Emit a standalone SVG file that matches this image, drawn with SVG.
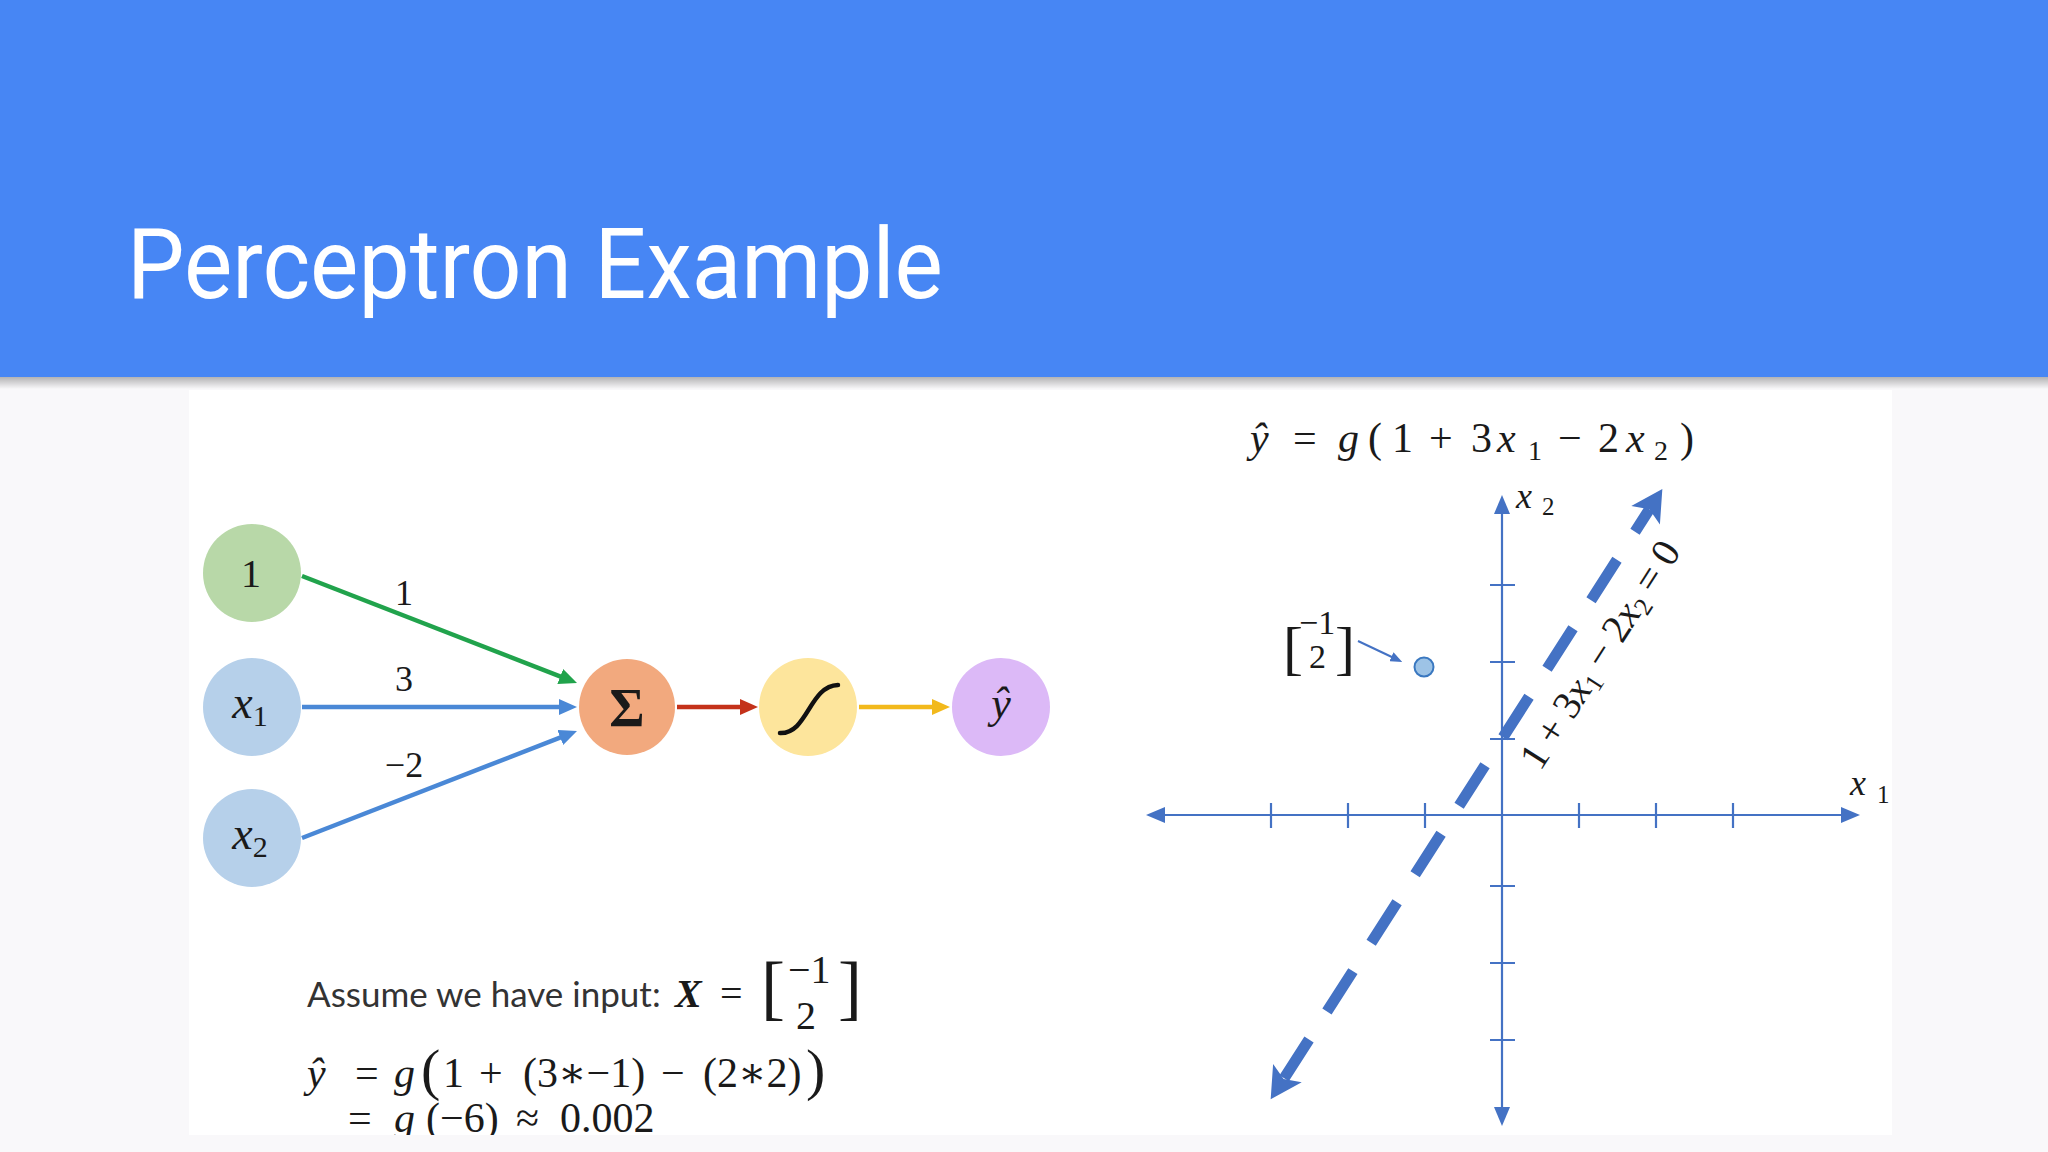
<svg xmlns="http://www.w3.org/2000/svg" width="2048" height="1152" viewBox="0 0 2048 1152">
<style>
.math{font-family:'Liberation Serif','DejaVu Serif',serif;fill:#1a1a1a}
.it{font-style:italic}
.prose{font-family:Lato,'Open Sans',sans-serif;fill:#333}
.edge{fill:none;stroke-width:4.5}
.axis{fill:none;stroke:#4472c4;stroke-width:2.2}
.axhead{fill:#4472c4}
.dl{fill:none;stroke:#4472c4;stroke-width:11}
</style>
<defs>
<linearGradient id="shadow" x1="0" y1="0" x2="0" y2="1">
<stop offset="0" stop-color="#000" stop-opacity="0.28"/>
<stop offset="1" stop-color="#000" stop-opacity="0"/>
</linearGradient>
<clipPath id="panel"><rect x="189" y="390" width="1703" height="745"/></clipPath>
<marker id="mGreen" viewBox="0 0 18 16" refX="8" refY="8" markerWidth="18" markerHeight="16" markerUnits="userSpaceOnUse" orient="auto"><path d="M0,0 L18,8 L0,16 z" fill="#21a34c"/></marker>
<marker id="mBlue" viewBox="0 0 18 16" refX="8" refY="8" markerWidth="18" markerHeight="16" markerUnits="userSpaceOnUse" orient="auto"><path d="M0,0 L18,8 L0,16 z" fill="#4a88d6"/></marker>
<marker id="mRed" viewBox="0 0 18 16" refX="8" refY="8" markerWidth="18" markerHeight="16" markerUnits="userSpaceOnUse" orient="auto"><path d="M0,0 L18,8 L0,16 z" fill="#c4321a"/></marker>
<marker id="mYellow" viewBox="0 0 18 16" refX="8" refY="8" markerWidth="18" markerHeight="16" markerUnits="userSpaceOnUse" orient="auto"><path d="M0,0 L18,8 L0,16 z" fill="#f2b91c"/></marker>
<marker id="mThin" viewBox="0 0 12 10" refX="4" refY="5" markerWidth="12" markerHeight="10" markerUnits="userSpaceOnUse" orient="auto"><path d="M0,0 L12,5 L0,10 z" fill="#4472c4"/></marker>
</defs>

<!-- background and header -->
<rect x="0" y="0" width="2048" height="1152" fill="#f9f8fa"/>
<rect x="0" y="0" width="2048" height="377" fill="#4786f4"/>
<rect x="0" y="377" width="2048" height="12" fill="url(#shadow)"/>
<rect x="189" y="390" width="1703" height="745" fill="#ffffff"/>
<text x="127" y="298" font-family="Roboto,'Liberation Sans',sans-serif" font-size="98" fill="#ffffff" textLength="816" lengthAdjust="spacingAndGlyphs">Perceptron Example</text>

<!-- connectors -->
<g id="connectors">
<line class="edge" x1="302" y1="576" x2="567.7" y2="679.4" stroke="#21a34c" marker-end="url(#mGreen)"/>
<line class="edge" x1="302" y1="707" x2="567" y2="707" stroke="#4a88d6" marker-end="url(#mBlue)"/>
<line class="edge" x1="302" y1="838" x2="567.7" y2="734.6" stroke="#4a88d6" marker-end="url(#mBlue)"/>
<line class="edge" x1="677" y1="707" x2="748" y2="707" stroke="#c4321a" marker-end="url(#mRed)"/>
<line class="edge" x1="859" y1="707" x2="940" y2="707" stroke="#f2b91c" marker-end="url(#mYellow)"/>
<text class="math" x="404" y="605" font-size="36" text-anchor="middle">1</text>
<text class="math" x="404" y="691" font-size="36" text-anchor="middle">3</text>
<text class="math" x="404" y="777" font-size="36" text-anchor="middle">−2</text>
</g>

<!-- nodes -->
<g id="node-bias">
<circle cx="252" cy="573" r="49" fill="#b8d8a8"/>
<text class="math" x="251" y="587" font-size="40" text-anchor="middle">1</text>
</g>
<g id="node-x1">
<circle cx="252" cy="707" r="49" fill="#b6d0ea"/>
<text class="math" x="250" y="718" font-size="46" text-anchor="middle"><tspan class="it">x</tspan><tspan font-size="30" dy="8">1</tspan></text>
</g>
<g id="node-x2">
<circle cx="252" cy="838" r="49" fill="#b6d0ea"/>
<text class="math" x="250" y="849" font-size="46" text-anchor="middle"><tspan class="it">x</tspan><tspan font-size="30" dy="8">2</tspan></text>
</g>
<g id="node-sum">
<circle cx="627" cy="707" r="48" fill="#f2a97e"/>
<text class="math" x="627" y="726" font-size="54" font-weight="bold" text-anchor="middle">Σ</text>
</g>
<g id="node-sigmoid">
<circle cx="808" cy="707" r="49" fill="#fde59c"/>
<path d="M780,733 C808,734 809,686 838,685" fill="none" stroke="#111" stroke-width="4.5" stroke-linecap="round"/>
</g>
<g id="node-yhat">
<circle cx="1001" cy="707" r="49" fill="#dcb9f7"/>
<text class="math it" x="1001" y="718" font-size="44" text-anchor="middle">ŷ</text>
</g>

<!-- left equations -->
<g id="equations" clip-path="url(#panel)">
<text class="prose" x="307" y="1007" font-size="35">Assume we have input:</text>
<text class="math" x="675" y="1007" font-size="40" font-weight="bold" font-style="italic">X</text>
<text class="math" x="720" y="1007" font-size="40">=</text>
<text class="math" x="761" y="1011" font-size="72">[</text>
<text class="math" x="788" y="983" font-size="40">−1</text>
<text class="math" x="796" y="1029" font-size="40">2</text>
<text class="math" x="838" y="1011" font-size="72">]</text>

<text class="math" y="1087" font-size="42"><tspan class="it" x="307">ŷ</tspan><tspan x="355">=</tspan><tspan class="it" x="394">g</tspan><tspan x="443">1</tspan><tspan x="479">+</tspan><tspan x="523">(3∗−1)</tspan><tspan x="661">−</tspan><tspan x="703">(2∗2)</tspan></text>
<text class="math" x="421" y="1089" font-size="58">(</text>
<text class="math" x="806" y="1089" font-size="58">)</text>

<text class="math" y="1132" font-size="42"><tspan x="348">=</tspan><tspan class="it" x="394">g</tspan><tspan x="426">(−6)</tspan><tspan x="516">≈</tspan><tspan x="560">0.002</tspan></text>
</g>

<!-- right: formula -->
<g id="formula">
<text class="math" y="452" font-size="42"><tspan class="it" x="1250">ŷ</tspan><tspan x="1293">=</tspan><tspan class="it" x="1338">g</tspan><tspan x="1368">(</tspan><tspan x="1392">1</tspan><tspan x="1429">+</tspan><tspan x="1471">3</tspan><tspan class="it" x="1497">x</tspan><tspan x="1528" font-size="28" dy="8">1</tspan><tspan x="1558" dy="-8">−</tspan><tspan x="1598">2</tspan><tspan class="it" x="1626">x</tspan><tspan x="1654" font-size="28" dy="8">2</tspan><tspan x="1680" dy="-8">)</tspan></text>
</g>

<!-- right: axes -->
<g id="axes">
<line class="axis" x1="1160" y1="815" x2="1845" y2="815"/>
<line class="axis" x1="1502" y1="510" x2="1502" y2="1110"/>
<path class="axhead" d="M1146,815 L1165,807 L1165,823 z"/>
<path class="axhead" d="M1860,815 L1841,807 L1841,823 z"/>
<path class="axhead" d="M1502,495 L1494,514 L1510,514 z"/>
<path class="axhead" d="M1502,1126 L1494,1107 L1510,1107 z"/>
<path class="axis" d="M1271,803 V828 M1348,803 V828 M1425,803 V828 M1579,803 V828 M1656,803 V828 M1733,803 V828 M1490,585 H1515 M1490,662 H1515 M1490,739 H1515 M1490,886 H1515 M1490,963 H1515 M1490,1040 H1515"/>
<text class="math it" x="1516" y="508" font-size="36">x</text>
<text class="math" x="1542" y="515" font-size="25">2</text>
<text class="math it" x="1850" y="795" font-size="36">x</text>
<text class="math" x="1877" y="803" font-size="25">1</text>
</g>

<!-- right: decision boundary -->
<g id="boundary" transform="translate(1604 580) rotate(-57.3)">
<path class="dl" d="M-592,0 H-546 M-512.8,0 H-464.8 M-431,0 H-383 M-349.6,0 H-301.6 M-268.2,0 H-220.2 M-186.8,0 H-138.8 M-105.4,0 H-57.4 M-24,0 H24 M57.4,0 H84"/>
<polygon class="axhead" points="108,0 77,-17 84,0 77,17"/>
<polygon class="axhead" points="-617,0 -586,-17 -593,0 -586,17"/>
<text class="math" x="-196" y="50" font-size="40" textLength="262" lengthAdjust="spacing">1 + 3<tspan class="it">x</tspan><tspan font-size="26" dy="6">1</tspan><tspan dy="-6"> − 2</tspan><tspan class="it">x</tspan><tspan font-size="26" dy="6">2</tspan><tspan dy="-6"> = 0</tspan></text>
</g>

<!-- right: point -->
<g id="point">
<text class="math" x="1283" y="668" font-size="60">[</text>
<text class="math" x="1299" y="634" font-size="34">−1</text>
<text class="math" x="1309" y="668" font-size="34">2</text>
<text class="math" x="1335" y="668" font-size="60">]</text>
<line x1="1358" y1="641" x2="1395" y2="658.5" stroke="#4472c4" stroke-width="2" marker-end="url(#mThin)"/>
<circle cx="1424" cy="667" r="9.5" fill="#9dc3e6" stroke="#3a78c0" stroke-width="2"/>
</g>
</svg>
